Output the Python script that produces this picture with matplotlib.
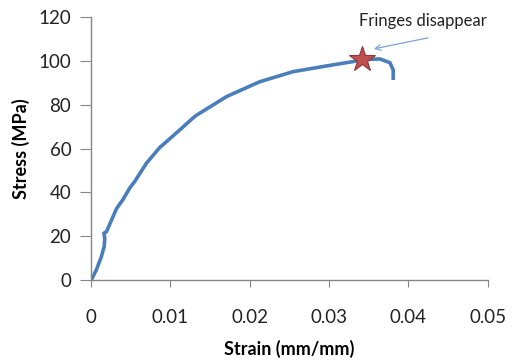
import matplotlib
matplotlib.use('Agg')
import matplotlib.pyplot as plt

strain = [0.0001, 0.0007, 0.00133, 0.00168, 0.00176, 0.00164, 0.00197, 0.0028,
          0.00323, 0.00407, 0.00491, 0.00554, 0.00701, 0.00869, 0.00911, 0.01121,
          0.01289, 0.01331, 0.01709, 0.02128, 0.02548, 0.02968, 0.03304, 0.03417,
          0.0364, 0.03766, 0.03808, 0.03808]
stress = [0.3, 4.6, 10.6, 15.2, 19.0, 21.3, 22.0, 28.9,
          32.5, 36.8, 42.0, 45.0, 53.3, 60.5, 61.8, 68.5,
          74.0, 75.2, 83.7, 90.5, 95.1, 97.7, 99.7, 100.6,
          100.9, 99.2, 95.9, 92.1]
star_x = [0.0342]
star_y = [100.9]

plt.rcParams['font.family'] = ['Lato', 'DejaVu Sans']

fig = plt.figure(figsize=(5.13, 3.64), dpi=100)
ax = fig.add_axes([0.177, 0.231, 0.774, 0.722])

ax.plot(strain, stress, color='#4A7EBB', lw=2.6, solid_joinstyle='round')
ax.plot(star_x, star_y, marker='*', ms=19, color='#C0504D', mec='#8C3836', mew=0.8, ls='none')

ax.text(0.0418, 118.3, 'Fringes disappear', fontsize=12, color='#222222',
        ha='center', va='center')
ax.annotate('', xy=(0.03564, 105.5), xytext=(0.04244, 110.5),
            arrowprops=dict(arrowstyle='->', color='#7DA2D6', lw=0.9,
                            shrinkA=0, shrinkB=0))

ax.set_xlim(0, 0.05)
ax.set_ylim(0, 120)
ax.set_xticks([0, 0.01, 0.02, 0.03, 0.04, 0.05])
ax.set_xticklabels(['0', '0.01', '0.02', '0.03', '0.04', '0.05'])
ax.set_yticks(range(0, 121, 20))

for s in ['top', 'right']:
    ax.spines[s].set_visible(False)
for s in ['left', 'bottom']:
    ax.spines[s].set_color('#868686')
    ax.spines[s].set_linewidth(1.0)

ax.tick_params(axis='x', direction='out', length=5, color='#868686', pad=16,
               labelsize=13.5, labelcolor='#222222')
ax.tick_params(axis='y', direction='out', length=8, color='#868686', pad=6,
               labelsize=13.5, labelcolor='#222222')

ax.set_xlabel('Strain (mm/mm)', fontsize=13, fontweight='bold', labelpad=10)
ax.set_ylabel('Stress (MPa)', fontsize=13, fontweight='bold', labelpad=6)

fig.savefig('out.png', dpi=100)
